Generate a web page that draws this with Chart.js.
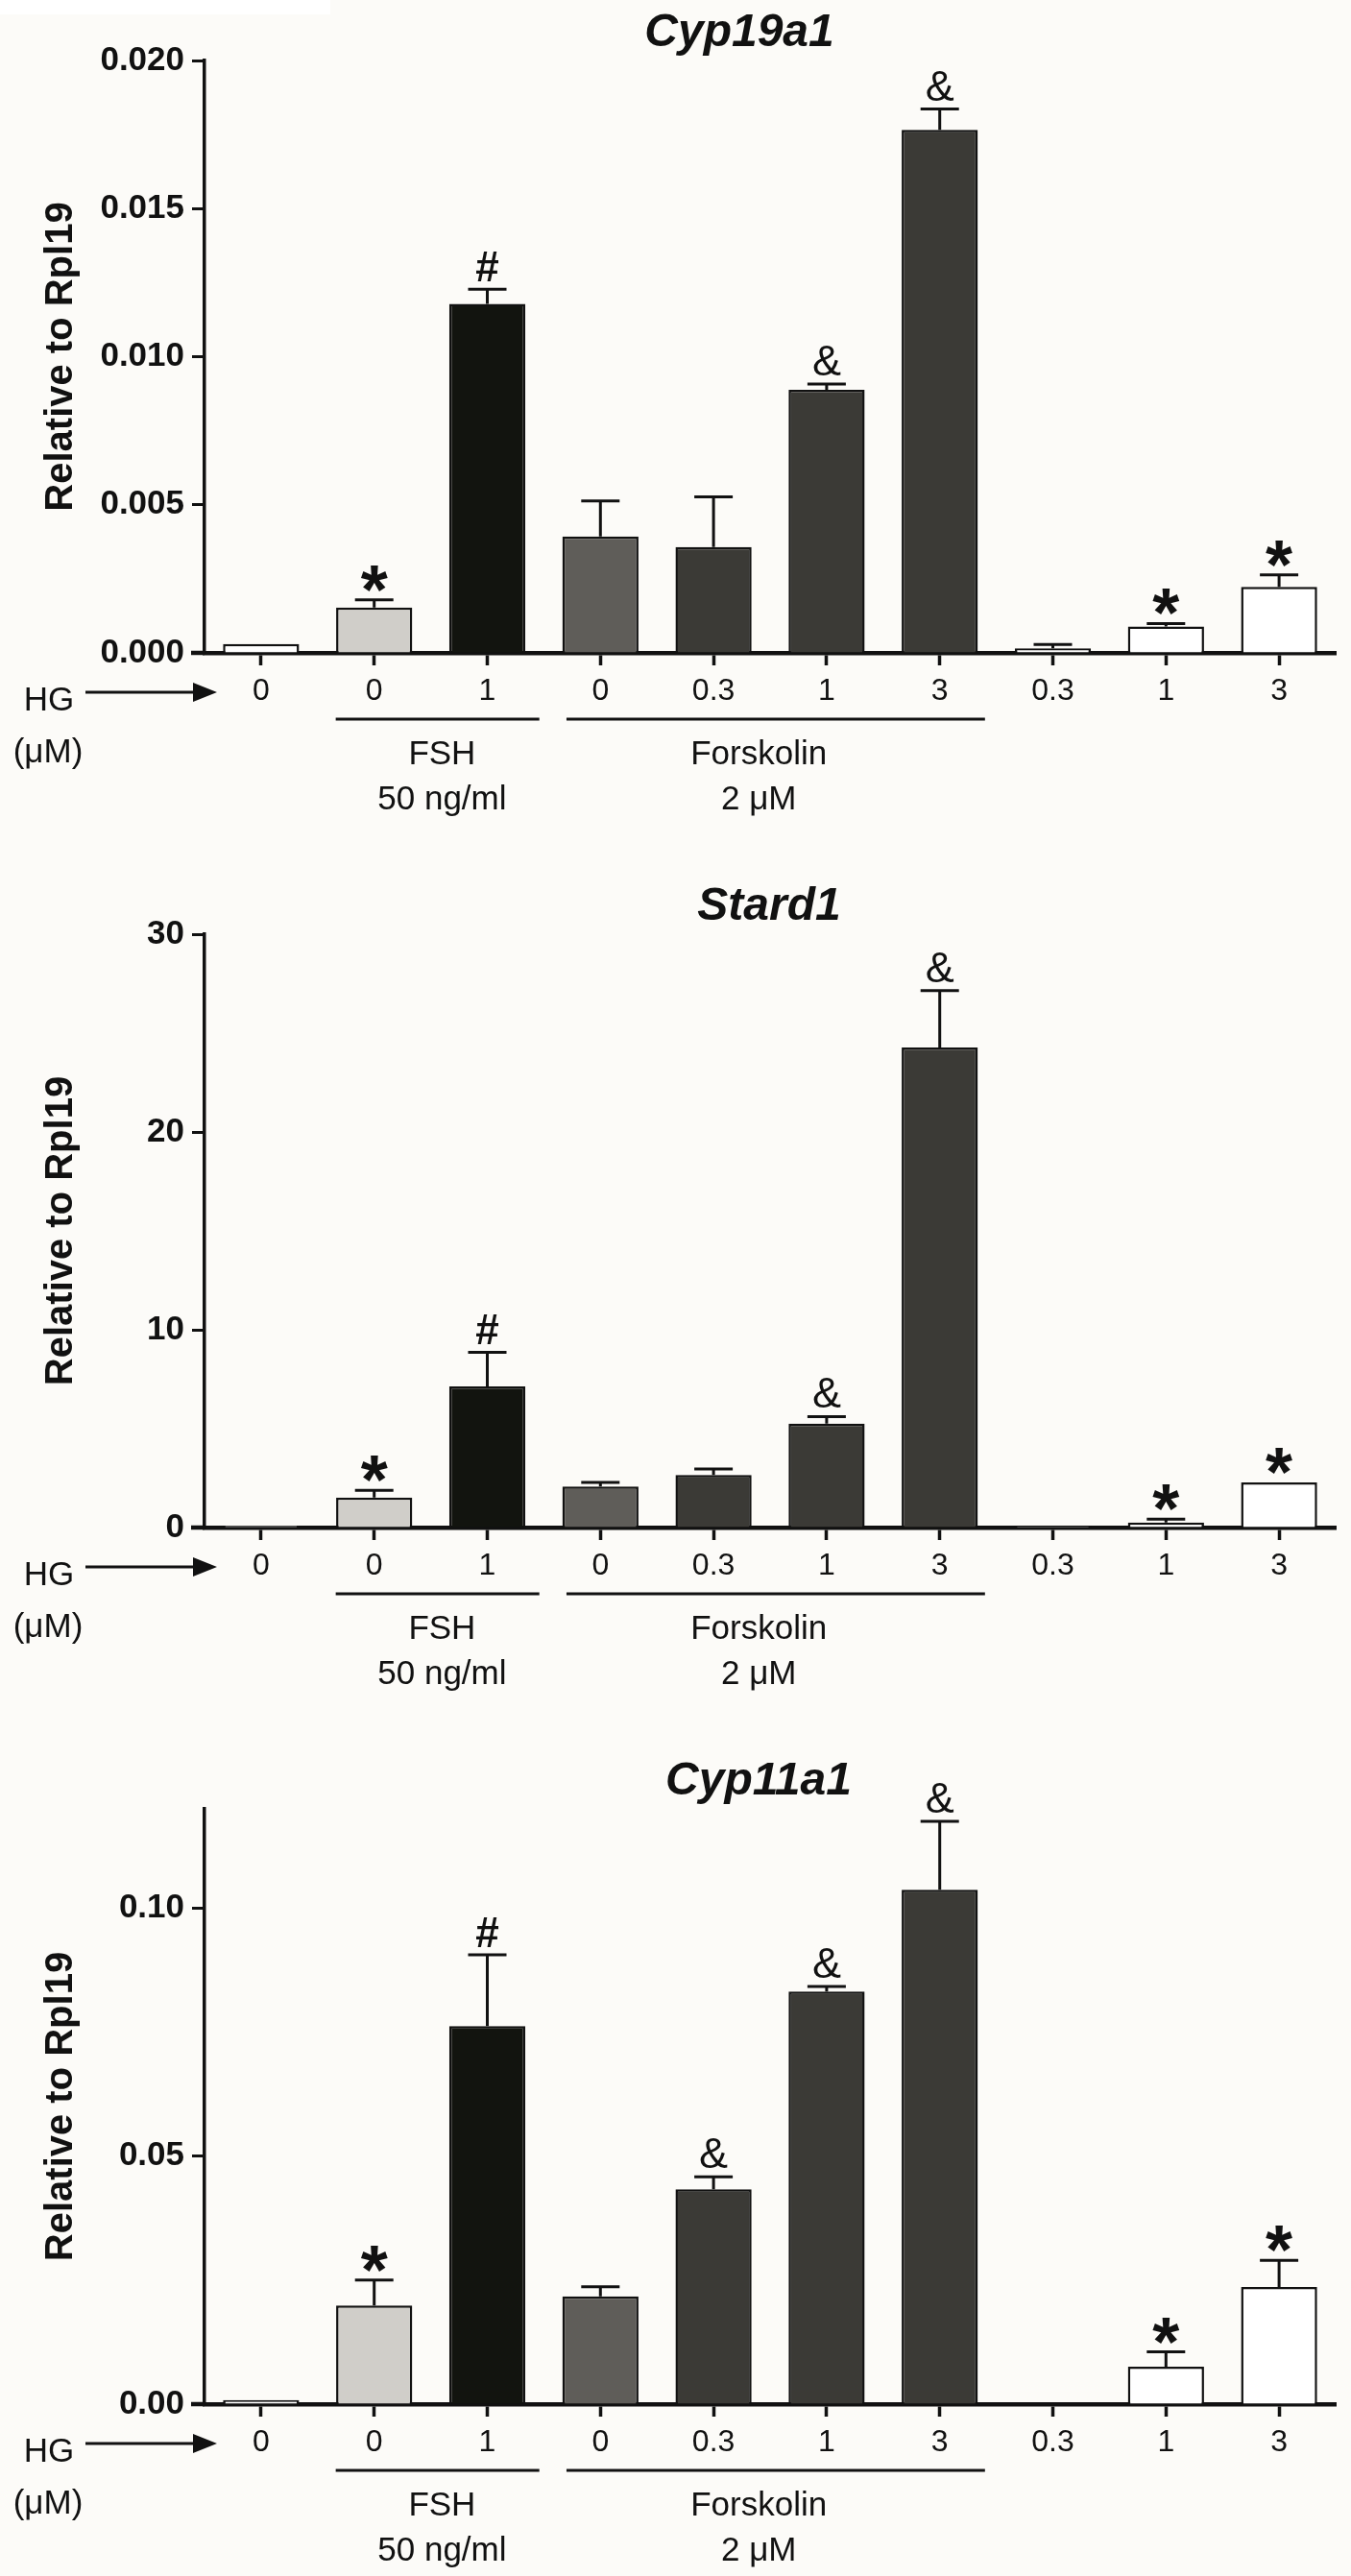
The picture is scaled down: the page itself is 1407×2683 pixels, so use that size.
<!DOCTYPE html>
<html><head><meta charset="utf-8">
<script src="https://cdn.jsdelivr.net/npm/chart.js@4.4.1/dist/chart.umd.min.js"></script>
<style>
html,body{margin:0;padding:0;background:#fcfbf8;}
body{width:1407px;height:2683px;position:relative;overflow:hidden;}
canvas{position:absolute;left:0;}
#wr{position:absolute;left:0;top:0;width:344px;height:15px;background:#fff;}
</style></head><body>
<div id="wr"></div>
<canvas id="c1" width="1407" height="900" style="top:0px"></canvas>
<canvas id="c2" width="1407" height="910" style="top:900px"></canvas>
<canvas id="c3" width="1407" height="873" style="top:1810px"></canvas>
<script>
// ---- data ----
const hgDoses = ['0','0','1','0','0.3','1','3','0.3','1','3'];

const cyp19Means  = [0.0003, 0.00153, 0.01178, 0.00393, 0.00357, 0.00888, 0.01766, 0.00015, 0.00089, 0.00223];
const cyp19Errors = [0, 0.00026, 0.0005, 0.0012, 0.0017, 0.0002, 0.0007, 0.00013, 0.0001, 0.0004];
const cyp19Marks  = ['', '*', '#', '', '', '&', '&', '', '*', '*'];
const cyp19Ticks  = [0, 0.005, 0.010, 0.015, 0.020];

const stardMeans  = [0.1, 1.52, 7.13, 2.08, 2.66, 5.25, 24.27, 0.07, 0.25, 2.28];
const stardErrors = [0, 0.36, 1.73, 0.2, 0.3, 0.36, 2.88, 0, 0.18, 0];
const stardMarks  = ['', '*', '#', '', '', '&', '&', '', '*', '*'];
const stardTicks  = [0, 10, 20, 30];

const cyp11Means  = [0.0008, 0.0199, 0.0762, 0.02175, 0.0433, 0.0832, 0.1037, 0, 0.00754, 0.0236];
const cyp11Errors = [0, 0.0051, 0.0144, 0.0019, 0.0025, 0.001, 0.0138, 0, 0.003, 0.0054];
const cyp11Marks  = ['', '*', '#', '', '&', '&', '&', '', '*', '*'];
const cyp11Ticks  = [0, 0.05, 0.10];

const groupLabels = [['FSH', '50 ng/ml'], ['Forskolin', '2 \u03bcM']];
const axisTitle = 'Relative to Rpl19';

// ---- style ----
const FONT = "'Liberation Sans', Arial, Helvetica, sans-serif";
const INK = '#111111';
const barColors = ['#ffffff', '#d0cec9', '#12140f', '#5f5d59', '#3b3a36', '#3b3a36', '#3b3a36', '#ffffff', '#ffffff', '#ffffff'];

const decoPlugin = {
  id: 'deco',
  afterDatasetsDraw(chart, args, opts) {
    const ctx = chart.ctx, ys = chart.scales.y;
    const meta = chart.getDatasetMeta(0);
    const vals = chart.data.datasets[0].data;
    ctx.save();
    ctx.strokeStyle = INK; ctx.lineWidth = 3;
    opts.errors.forEach((e, i) => {
      if (!e) return;
      const x = meta.data[i].x;
      const y0 = ys.getPixelForValue(vals[i]);
      const y1 = ys.getPixelForValue(vals[i] + e);
      ctx.beginPath();
      ctx.moveTo(x, y0); ctx.lineTo(x, y1);
      ctx.moveTo(x - 20, y1); ctx.lineTo(x + 20, y1);
      ctx.stroke();
    });
    ctx.fillStyle = INK; ctx.textAlign = 'center'; ctx.textBaseline = 'alphabetic';
    opts.marks.forEach((m, i) => {
      if (!m) return;
      const x = meta.data[i].x;
      const top = ys.getPixelForValue(vals[i] + (opts.errors[i] || 0));
      if (m === '*') { ctx.font = 'bold 72px ' + FONT; ctx.fillText(m, x, top + 14); }
      else if (m === '#') { ctx.font = 'bold 44px ' + FONT; ctx.fillText(m, x, top - 8); }
      else { ctx.font = '45px ' + FONT; ctx.fillText(m, x, top - 9); }
    });
    ctx.restore();
  },
  afterDraw(chart, args, opts) {
    const ctx = chart.ctx, xs = chart.scales.x, ca = chart.chartArea;
    const b = ca.bottom;
    ctx.save();
    // x axis stub left of y axis
    ctx.strokeStyle = INK; ctx.lineWidth = 4.5;
    ctx.beginPath(); ctx.moveTo(ca.left - 14, b); ctx.lineTo(ca.left, b); ctx.stroke();
    // title
    ctx.fillStyle = INK; ctx.textAlign = 'center'; ctx.textBaseline = 'alphabetic';
    ctx.font = 'italic bold 48px ' + FONT;
    ctx.fillText(opts.title, opts.titleX, ca.top - 15);
    // HG arrow
    ctx.font = '35px ' + FONT;
    ctx.fillText('HG', 51, b + 60);
    ctx.fillText('(\u03bcM)', 50, b + 114);
    ctx.lineWidth = 3;
    ctx.beginPath(); ctx.moveTo(89, b + 41); ctx.lineTo(205, b + 41); ctx.stroke();
    ctx.beginPath(); ctx.moveTo(201, b + 31); ctx.lineTo(226, b + 41); ctx.lineTo(201, b + 51); ctx.closePath(); ctx.fill();
    // groups
    const groups = [[0.66, 2.46, 1.6], [2.7, 6.4, 4.4]];
    groups.forEach((g, k) => {
      const x0 = xs.getPixelForValue(g[0]), x1 = xs.getPixelForValue(g[1]), xc = xs.getPixelForValue(g[2]);
      ctx.lineWidth = 3;
      ctx.beginPath(); ctx.moveTo(x0, b + 69); ctx.lineTo(x1, b + 69); ctx.stroke();
      ctx.font = '35px ' + FONT;
      ctx.fillText(groupLabels[k][0], xc, b + 116);
      ctx.fillText(groupLabels[k][1], xc, b + 163);
    });
    ctx.restore();
  }
};

function makeChart(id, canvasH, top, bottom, means, errors, marks, ticks, yMax, decimals, title, titleX) {
  new Chart(document.getElementById(id), {
    type: 'bar',
    data: {
      labels: hgDoses,
      datasets: [{
        data: means,
        backgroundColor: barColors,
        borderColor: INK,
        borderWidth: 2.5,
        barPercentage: 0.673,
        categoryPercentage: 1.0
      }]
    },
    options: {
      responsive: false,
      animation: false,
      devicePixelRatio: 1,
      events: [],
      layout: { padding: { top: top, right: 16, left: 0, bottom: 0 } },
      plugins: {
        legend: { display: false },
        tooltip: { enabled: false },
        deco: { errors: errors, marks: marks, title: title, titleX: titleX }
      },
      scales: {
        x: {
          offset: true,
          grid: { display: true, drawOnChartArea: false, offset: false, tickLength: 13, tickWidth: 3.5, tickColor: INK },
          border: { display: true, color: INK, width: 4.5 },
          ticks: { color: INK, font: { family: FONT, size: 32 }, padding: 8, maxRotation: 0, autoSkip: false },
          afterFit: s => { s.height = canvasH - bottom; }
        },
        y: {
          min: 0, max: yMax,
          grid: { display: true, drawOnChartArea: false, tickLength: 13, tickWidth: 3, tickColor: INK },
          border: { display: true, color: INK, width: 3.5 },
          afterBuildTicks: s => { s.ticks = ticks.map(v => ({ value: v })); },
          ticks: {
            color: INK, padding: 8,
            font: { family: FONT, size: 35, weight: 'bold' },
            callback: v => Number(v).toFixed(decimals)
          },
          title: {
            display: true, text: axisTitle, color: INK,
            font: { family: FONT, size: 40, weight: 'bold' },
            padding: { top: 40, bottom: 0 }
          },
          afterFit: s => { s.width = 213; }
        }
      }
    },
    plugins: [decoPlugin]
  });
}

makeChart('c1', 900, 63, 680, cyp19Means, cyp19Errors, cyp19Marks, cyp19Ticks, 0.020, 3, 'Cyp19a1', 770);
makeChart('c2', 910, 73, 691, stardMeans, stardErrors, stardMarks, stardTicks, 30, 0, 'Stard1', 801);
makeChart('c3', 873, 74, 694, cyp11Means, cyp11Errors, cyp11Marks, cyp11Ticks, 0.12, 2, 'Cyp11a1', 790);
</script>
</body></html>
